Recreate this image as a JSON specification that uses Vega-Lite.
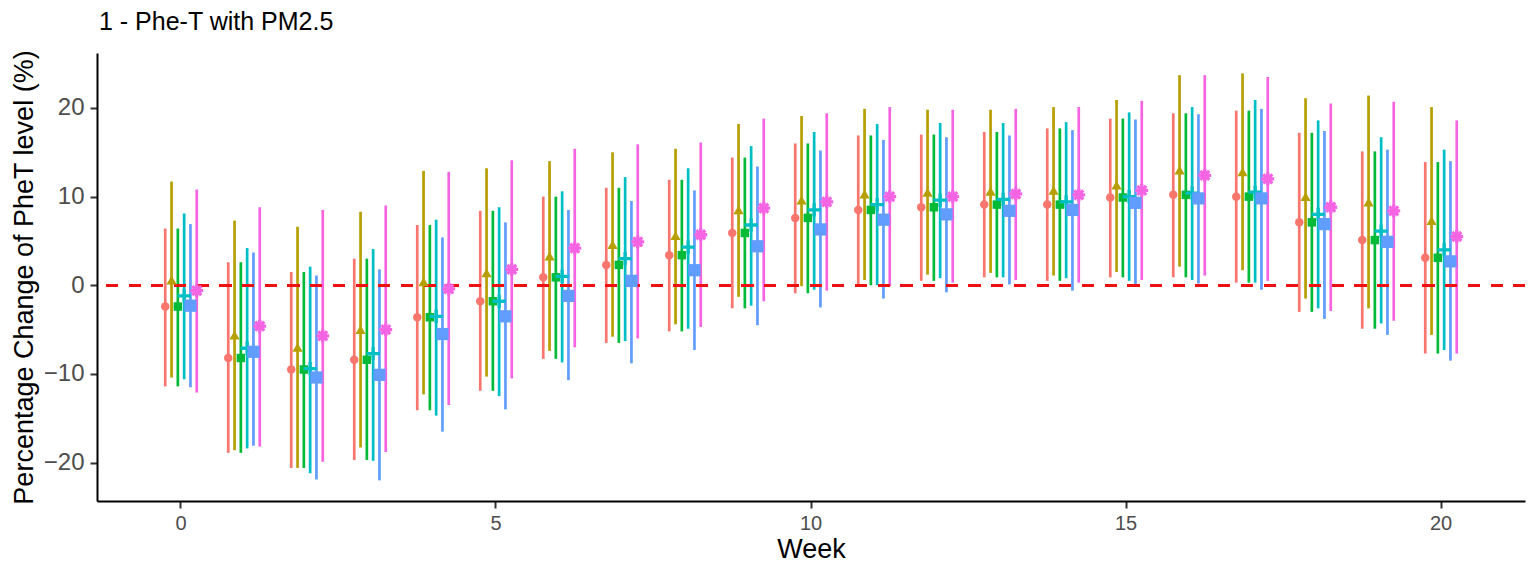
{
  "$schema": "https://vega.github.io/schema/vega-lite/v6.json",
  "width": 1428,
  "height": 448,
  "autosize": {"type": "none"},
  "padding": {"left": 97, "top": 53, "right": 6, "bottom": 67},
  "background": "white",
  "title": {
    "text": "1 - Phe-T with PM2.5",
    "anchor": "start",
    "frame": "group",
    "font": "Liberation Sans",
    "fontSize": 25,
    "fontWeight": "normal",
    "color": "#000000",
    "baseline": "alphabetic",
    "offset": 20,
    "dy": 25,
    "dx": 2
  },
  "config": {
    "view": {"stroke": null},
    "axis": {
      "grid": false,
      "domainColor": "#000000",
      "domainWidth": 2,
      "tickColor": "#333333",
      "tickWidth": 2,
      "tickSize": 7,
      "labelFont": "Liberation Sans",
      "labelColor": "#4D4D4D",
      "titleFont": "Liberation Sans",
      "titleColor": "#000000",
      "titleFontWeight": "normal",
      "titleFontSize": 27
    }
  },
  "data": {
    "values": [
      {"week": 0, "model": "M1", "est": -2.4, "lo": -11.4, "hi": 6.4},
      {"week": 0, "model": "M2", "est": 0.6, "lo": -10.4, "hi": 11.7},
      {"week": 0, "model": "M3", "est": -2.4, "lo": -11.4, "hi": 6.4},
      {"week": 0, "model": "M4", "est": -1.2, "lo": -10.6, "hi": 8.1},
      {"week": 0, "model": "M5", "est": -2.3, "lo": -11.5, "hi": 6.9},
      {"week": 0, "model": "M6", "est": -0.6, "lo": -12.1, "hi": 10.8},
      {"week": 1, "model": "M1", "est": -8.2, "lo": -18.9, "hi": 2.6},
      {"week": 1, "model": "M2", "est": -5.6, "lo": -18.6, "hi": 7.3},
      {"week": 1, "model": "M3", "est": -8.2, "lo": -18.9, "hi": 2.6},
      {"week": 1, "model": "M4", "est": -7.1, "lo": -18.4, "hi": 4.2},
      {"week": 1, "model": "M5", "est": -7.5, "lo": -18.1, "hi": 3.7},
      {"week": 1, "model": "M6", "est": -4.6, "lo": -18.2, "hi": 8.8},
      {"week": 2, "model": "M1", "est": -9.5, "lo": -20.6, "hi": 1.5},
      {"week": 2, "model": "M2", "est": -7.0, "lo": -20.6, "hi": 6.6},
      {"week": 2, "model": "M3", "est": -9.5, "lo": -20.6, "hi": 1.5},
      {"week": 2, "model": "M4", "est": -9.4, "lo": -21.2, "hi": 2.1},
      {"week": 2, "model": "M5", "est": -10.4, "lo": -21.9, "hi": 1.1},
      {"week": 2, "model": "M6", "est": -5.7, "lo": -19.9, "hi": 8.5},
      {"week": 3, "model": "M1", "est": -8.4, "lo": -19.7, "hi": 3.0},
      {"week": 3, "model": "M2", "est": -5.0, "lo": -18.3, "hi": 8.3},
      {"week": 3, "model": "M3", "est": -8.4, "lo": -19.7, "hi": 3.0},
      {"week": 3, "model": "M4", "est": -7.7, "lo": -19.8, "hi": 4.1},
      {"week": 3, "model": "M5", "est": -10.1, "lo": -22.0, "hi": 1.8},
      {"week": 3, "model": "M6", "est": -5.0, "lo": -18.8, "hi": 9.0},
      {"week": 4, "model": "M1", "est": -3.6, "lo": -14.1, "hi": 6.8},
      {"week": 4, "model": "M2", "est": 0.4, "lo": -12.3, "hi": 12.9},
      {"week": 4, "model": "M3", "est": -3.6, "lo": -14.1, "hi": 6.8},
      {"week": 4, "model": "M4", "est": -3.5, "lo": -14.7, "hi": 7.4},
      {"week": 4, "model": "M5", "est": -5.5, "lo": -16.5, "hi": 5.4},
      {"week": 4, "model": "M6", "est": -0.4, "lo": -13.5, "hi": 12.8},
      {"week": 5, "model": "M1", "est": -1.8, "lo": -11.9, "hi": 8.4},
      {"week": 5, "model": "M2", "est": 1.4, "lo": -10.3, "hi": 13.2},
      {"week": 5, "model": "M3", "est": -1.8, "lo": -11.9, "hi": 8.4},
      {"week": 5, "model": "M4", "est": -1.8, "lo": -12.5, "hi": 8.8},
      {"week": 5, "model": "M5", "est": -3.5, "lo": -14.0, "hi": 7.1},
      {"week": 5, "model": "M6", "est": 1.8, "lo": -10.5, "hi": 14.1},
      {"week": 6, "model": "M1", "est": 0.9, "lo": -8.3, "hi": 10.0},
      {"week": 6, "model": "M2", "est": 3.3, "lo": -7.4, "hi": 14.0},
      {"week": 6, "model": "M3", "est": 0.9, "lo": -8.3, "hi": 10.0},
      {"week": 6, "model": "M4", "est": 1.0, "lo": -8.7, "hi": 10.6},
      {"week": 6, "model": "M5", "est": -1.2, "lo": -10.7, "hi": 8.5},
      {"week": 6, "model": "M6", "est": 4.2, "lo": -7.0, "hi": 15.4},
      {"week": 7, "model": "M1", "est": 2.3, "lo": -6.5, "hi": 11.0},
      {"week": 7, "model": "M2", "est": 4.6, "lo": -5.8, "hi": 15.0},
      {"week": 7, "model": "M3", "est": 2.3, "lo": -6.5, "hi": 11.0},
      {"week": 7, "model": "M4", "est": 3.0, "lo": -6.3, "hi": 12.2},
      {"week": 7, "model": "M5", "est": 0.5, "lo": -8.8, "hi": 9.5},
      {"week": 7, "model": "M6", "est": 4.9, "lo": -6.0, "hi": 15.9},
      {"week": 8, "model": "M1", "est": 3.4, "lo": -5.2, "hi": 11.9},
      {"week": 8, "model": "M2", "est": 5.6, "lo": -4.4, "hi": 15.4},
      {"week": 8, "model": "M3", "est": 3.4, "lo": -5.2, "hi": 11.9},
      {"week": 8, "model": "M4", "est": 4.3, "lo": -4.9, "hi": 13.2},
      {"week": 8, "model": "M5", "est": 1.7, "lo": -7.3, "hi": 10.7},
      {"week": 8, "model": "M6", "est": 5.7, "lo": -4.7, "hi": 16.1},
      {"week": 9, "model": "M1", "est": 5.9, "lo": -2.6, "hi": 14.4},
      {"week": 9, "model": "M2", "est": 8.5, "lo": -1.3, "hi": 18.2},
      {"week": 9, "model": "M3", "est": 5.9, "lo": -2.6, "hi": 14.4},
      {"week": 9, "model": "M4", "est": 6.8, "lo": -2.3, "hi": 15.7},
      {"week": 9, "model": "M5", "est": 4.4, "lo": -4.5, "hi": 13.4},
      {"week": 9, "model": "M6", "est": 8.7, "lo": -1.8, "hi": 18.8},
      {"week": 10, "model": "M1", "est": 7.6, "lo": -0.9, "hi": 16.0},
      {"week": 10, "model": "M2", "est": 9.6, "lo": -0.1, "hi": 19.1},
      {"week": 10, "model": "M3", "est": 7.6, "lo": -0.9, "hi": 16.0},
      {"week": 10, "model": "M4", "est": 8.5, "lo": -0.5, "hi": 17.3},
      {"week": 10, "model": "M5", "est": 6.3, "lo": -2.5, "hi": 15.2},
      {"week": 10, "model": "M6", "est": 9.4, "lo": -0.6, "hi": 19.4},
      {"week": 11, "model": "M1", "est": 8.5, "lo": 0.0, "hi": 16.9},
      {"week": 11, "model": "M2", "est": 10.3, "lo": 0.6, "hi": 19.9},
      {"week": 11, "model": "M3", "est": 8.5, "lo": 0.0, "hi": 16.9},
      {"week": 11, "model": "M4", "est": 9.1, "lo": 0.0, "hi": 18.2},
      {"week": 11, "model": "M5", "est": 7.4, "lo": -1.5, "hi": 16.4},
      {"week": 11, "model": "M6", "est": 10.0, "lo": -0.1, "hi": 20.1},
      {"week": 12, "model": "M1", "est": 8.8, "lo": 0.5, "hi": 17.0},
      {"week": 12, "model": "M2", "est": 10.5, "lo": 1.2, "hi": 19.8},
      {"week": 12, "model": "M3", "est": 8.8, "lo": 0.5, "hi": 17.0},
      {"week": 12, "model": "M4", "est": 9.6, "lo": 0.8, "hi": 18.3},
      {"week": 12, "model": "M5", "est": 8.0, "lo": -0.8, "hi": 16.7},
      {"week": 12, "model": "M6", "est": 10.0, "lo": 0.3, "hi": 19.8},
      {"week": 13, "model": "M1", "est": 9.1, "lo": 0.9, "hi": 17.3},
      {"week": 13, "model": "M2", "est": 10.6, "lo": 1.4, "hi": 19.8},
      {"week": 13, "model": "M3", "est": 9.1, "lo": 0.9, "hi": 17.3},
      {"week": 13, "model": "M4", "est": 9.7, "lo": 0.9, "hi": 18.3},
      {"week": 13, "model": "M5", "est": 8.4, "lo": 0.1, "hi": 16.9},
      {"week": 13, "model": "M6", "est": 10.3, "lo": 0.6, "hi": 19.9},
      {"week": 14, "model": "M1", "est": 9.1, "lo": 0.5, "hi": 17.7},
      {"week": 14, "model": "M2", "est": 10.7, "lo": 1.1, "hi": 20.1},
      {"week": 14, "model": "M3", "est": 9.1, "lo": 0.5, "hi": 17.7},
      {"week": 14, "model": "M4", "est": 9.4, "lo": 0.8, "hi": 18.4},
      {"week": 14, "model": "M5", "est": 8.5, "lo": -0.6, "hi": 17.5},
      {"week": 14, "model": "M6", "est": 10.2, "lo": 0.3, "hi": 20.1},
      {"week": 15, "model": "M1", "est": 9.9, "lo": 0.9, "hi": 18.8},
      {"week": 15, "model": "M2", "est": 11.3, "lo": 1.5, "hi": 20.9},
      {"week": 15, "model": "M3", "est": 9.9, "lo": 0.9, "hi": 18.8},
      {"week": 15, "model": "M4", "est": 10.0, "lo": 0.5, "hi": 19.5},
      {"week": 15, "model": "M5", "est": 9.3, "lo": -0.1, "hi": 18.7},
      {"week": 15, "model": "M6", "est": 10.7, "lo": 0.6, "hi": 20.8},
      {"week": 16, "model": "M1", "est": 10.2, "lo": 0.9, "hi": 19.4},
      {"week": 16, "model": "M2", "est": 13.0, "lo": 2.1, "hi": 23.7},
      {"week": 16, "model": "M3", "est": 10.2, "lo": 0.9, "hi": 19.4},
      {"week": 16, "model": "M4", "est": 10.4, "lo": 0.6, "hi": 20.1},
      {"week": 16, "model": "M5", "est": 9.8, "lo": 0.2, "hi": 19.3},
      {"week": 16, "model": "M6", "est": 12.4, "lo": 1.1, "hi": 23.7},
      {"week": 17, "model": "M1", "est": 10.0, "lo": 0.3, "hi": 19.7},
      {"week": 17, "model": "M2", "est": 12.8, "lo": 1.7, "hi": 23.9},
      {"week": 17, "model": "M3", "est": 10.0, "lo": 0.3, "hi": 19.7},
      {"week": 17, "model": "M4", "est": 10.5, "lo": 0.3, "hi": 20.9},
      {"week": 17, "model": "M5", "est": 9.8, "lo": -0.5, "hi": 19.9},
      {"week": 17, "model": "M6", "est": 12.0, "lo": 0.5, "hi": 23.5},
      {"week": 18, "model": "M1", "est": 7.1, "lo": -3.0, "hi": 17.2},
      {"week": 18, "model": "M2", "est": 10.0, "lo": -1.5, "hi": 21.1},
      {"week": 18, "model": "M3", "est": 7.1, "lo": -3.0, "hi": 17.2},
      {"week": 18, "model": "M4", "est": 8.0, "lo": -2.6, "hi": 18.6},
      {"week": 18, "model": "M5", "est": 6.9, "lo": -3.8, "hi": 17.4},
      {"week": 18, "model": "M6", "est": 8.8, "lo": -2.9, "hi": 20.5},
      {"week": 19, "model": "M1", "est": 5.1, "lo": -4.9, "hi": 15.1},
      {"week": 19, "model": "M2", "est": 9.4, "lo": -2.6, "hi": 21.4},
      {"week": 19, "model": "M3", "est": 5.1, "lo": -4.9, "hi": 15.1},
      {"week": 19, "model": "M4", "est": 6.1, "lo": -4.3, "hi": 16.7},
      {"week": 19, "model": "M5", "est": 4.9, "lo": -5.6, "hi": 15.3},
      {"week": 19, "model": "M6", "est": 8.4, "lo": -4.0, "hi": 20.7},
      {"week": 20, "model": "M1", "est": 3.1, "lo": -7.7, "hi": 13.9},
      {"week": 20, "model": "M2", "est": 7.3, "lo": -5.6, "hi": 20.1},
      {"week": 20, "model": "M3", "est": 3.1, "lo": -7.7, "hi": 13.9},
      {"week": 20, "model": "M4", "est": 4.0, "lo": -7.3, "hi": 15.3},
      {"week": 20, "model": "M5", "est": 2.7, "lo": -8.5, "hi": 14.0},
      {"week": 20, "model": "M6", "est": 5.5, "lo": -7.7, "hi": 18.6}
    ]
  },
  "encoding": {
    "x": {
      "field": "week",
      "type": "ordinal",
      "scale": {"paddingInner": 0, "paddingOuter": 0.8333},
      "axis": {
        "values": [0, 5, 10, 15, 20],
        "labelAngle": 0,
        "bandPosition": 0.5,
        "labelFontSize": 20,
        "labelPadding": 5,
        "title": "Week",
        "titlePadding": 3
      }
    },
    "xOffset": {
      "field": "model",
      "type": "nominal",
      "scale": {
        "type": "point",
        "domain": ["M1", "M2", "M3", "M4", "M5", "M6"],
        "range": [15.75, 47.25],
        "padding": 0
      }
    },
    "y": {
      "field": "est",
      "type": "quantitative",
      "scale": {"domain": [-24.33, 26.2], "nice": false, "zero": false},
      "axis": {
        "values": [-20, -10, 0, 10, 20],
        "labelFontSize": 24,
        "labelPadding": 6,
        "title": "Percentage Change of PheT level (%)",
        "titlePadding": 5
      }
    }
  },
  "layer": [
    {
      "mark": {"type": "rule", "strokeWidth": 2.7},
      "encoding": {
        "y": {"field": "lo", "type": "quantitative"},
        "y2": {"field": "hi"},
        "color": {
          "field": "model",
          "type": "nominal",
          "scale": {
            "domain": ["M1", "M2", "M3", "M4", "M5", "M6"],
            "range": ["#F8766D", "#B79F00", "#00BA38", "#00BFC4", "#619CFF", "#F564E3"]
          },
          "legend": null
        }
      }
    },
    {
      "mark": {"type": "rule", "color": "#EE1111", "strokeWidth": 2.5, "strokeDash": [11.3, 11.4]},
      "encoding": {
        "y": {"datum": 0, "type": "quantitative"},
        "xOffset": null,
        "x": null
      }
    },
    {
      "transform": [{"filter": {"field": "model", "equal": "M1"}}],
      "mark": {"type": "point", "filled": true, "opacity": 1, "shape": "circle", "size": 72, "color": "#F8766D"},
      "encoding": {}
    },
    {
      "transform": [{"filter": {"field": "model", "equal": "M2"}}],
      "mark": {"type": "point", "filled": true, "opacity": 1, "shape": "triangle-up", "size": 105, "color": "#B79F00"},
      "encoding": {}
    },
    {
      "transform": [{"filter": {"field": "model", "equal": "M3"}}],
      "mark": {"type": "point", "filled": true, "opacity": 1, "shape": "square", "size": 72, "color": "#00BA38"},
      "encoding": {}
    },
    {
      "transform": [{"filter": {"field": "model", "equal": "M4"}}],
      "mark": {"type": "point", "filled": false, "opacity": 1, "shape": "M-1,0L1,0M0,-1L0,1", "size": 175, "strokeWidth": 3.3, "color": "#00BFC4"},
      "encoding": {}
    },
    {
      "transform": [{"filter": {"field": "model", "equal": "M5"}}],
      "mark": {"type": "point", "filled": true, "opacity": 1, "shape": "square", "size": 150, "color": "#619CFF"},
      "encoding": {}
    },
    {
      "transform": [{"filter": {"field": "model", "equal": "M6"}}],
      "mark": {"type": "point", "filled": false, "opacity": 1, "shape": "M-1,0L1,0M0,-1L0,1M-0.7,-0.7L0.7,0.7M-0.7,0.7L0.7,-0.7", "size": 165, "strokeWidth": 3.3, "color": "#F564E3"},
      "encoding": {}
    }
  ]
}
